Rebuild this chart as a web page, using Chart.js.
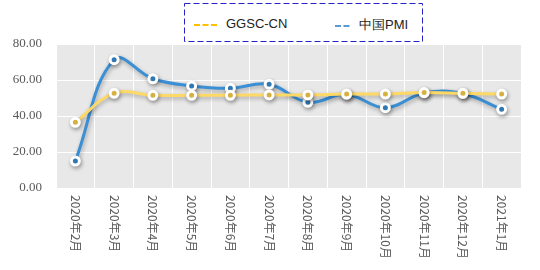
<!DOCTYPE html>
<html lang="zh">
<head>
  <meta charset="UTF-8" />
  <title>GGSC-CN vs 中国PMI</title>
  <style>
    body { margin: 0; background: #fff; }
    .wrap { position: relative; width: 540px; height: 270px; }
    canvas { position: absolute; left: 0; top: 0; }
    #legend { position: absolute; left: 184px; top: 3px; width: 239px; height: 39px; background: #fff; }
    #legend svg.box { position: absolute; left: 0; top: 0; }
    .item { position: absolute; top: 13px; font: 13px "Liberation Sans", Arial, sans-serif; color: #222; white-space: nowrap; }
    .item svg { vertical-align: middle; margin-right: 8px; }
  </style>
</head>
<body>
  <div class="wrap">
    <canvas id="chart" width="540" height="270"></canvas>
    <div id="legend">
      <svg class="box" width="239" height="39">
        <rect x="0.5" y="0.5" width="238" height="38" fill="#fff" stroke="#2323c8" stroke-width="1" stroke-dasharray="6,3" />
      </svg>
      <div class="item" style="left:10px">
        <svg width="24" height="4"><line x1="0" y1="2" x2="24" y2="2" stroke="#ffc000" stroke-width="2" stroke-dasharray="6,2.5" /></svg>GGSC-CN
      </div>
      <div class="item" style="left:151px">
        <svg width="16" height="4"><line x1="0" y1="2" x2="16" y2="2" stroke="#5b9bd5" stroke-width="2" stroke-dasharray="6,2.5" /></svg>中国PMI
      </div>
    </div>
  </div>

  <script src="https://cdn.jsdelivr.net/npm/chart.js"></script>
  <script>
    const months = ["2020年2月", "2020年3月", "2020年4月", "2020年5月", "2020年6月", "2020年7月",
                    "2020年8月", "2020年9月", "2020年10月", "2020年11月", "2020年12月", "2021年1月"];
    const ggsc = [36.5, 52.6, 51.5, 51.5, 51.5, 51.7, 51.7, 52.2, 52.2, 53.0, 52.6, 52.2];
    const pmi = [15.0, 71.3, 60.7, 56.7, 55.4, 57.6, 47.6, 52.0, 44.6, 52.8, 52.5, 43.7];
    const yTicks = [0, 20, 40, 60, 80];

    // gray plot background
    const plotBg = {
      id: "plotBg",
      beforeDraw(chart) {
        const { ctx, chartArea: a } = chart;
        ctx.save();
        ctx.fillStyle = "#e8e8e8";
        ctx.fillRect(a.left, a.top, a.right - a.left, a.bottom - a.top);
        ctx.restore();
      }
    };

    // soft shadow under lines and markers
    const shadow = {
      id: "shadow",
      beforeDatasetsDraw(chart) {
        const ctx = chart.ctx;
        ctx.save();
        ctx.shadowColor = "rgba(0,0,0,0.3)";
        ctx.shadowBlur = 4;
        ctx.shadowOffsetX = 1;
        ctx.shadowOffsetY = 2;
      },
      afterDatasetsDraw(chart) {
        chart.ctx.restore();
      }
    };

    // x labels rotated clockwise (read top to bottom)
    const xLabels = {
      id: "xLabels",
      afterDraw(chart) {
        const { ctx } = chart;
        const x = chart.scales.x;
        const top = chart.chartArea.bottom + 7;
        ctx.save();
        ctx.fillStyle = "#595959";
        ctx.font = '12px "Noto Sans CJK SC", sans-serif';
        ctx.textAlign = "left";
        ctx.textBaseline = "middle";
        months.forEach((m, i) => {
          ctx.save();
          ctx.translate(x.getPixelForValue(i), top);
          ctx.rotate(Math.PI / 2);
          ctx.fillText(m, 0, 0);
          ctx.restore();
        });
        ctx.restore();
      }
    };

    new Chart(document.getElementById("chart"), {
      type: "line",
      data: {
        labels: months,
        datasets: [
          {
            label: "GGSC-CN",
            data: ggsc,
            borderColor: "#ffd966",
            backgroundColor: "#ffd966",
            borderWidth: 3,
            tension: 0.4,
            pointRadius: 4,
            pointBorderWidth: 3,
            pointBorderColor: "#fff",
            pointBackgroundColor: "#ffd24d"
          },
          {
            label: "中国PMI",
            data: pmi,
            borderColor: "#3b8fd4",
            backgroundColor: "#3b8fd4",
            borderWidth: 3,
            tension: 0.4,
            pointRadius: 4,
            pointBorderWidth: 3,
            pointBorderColor: "#fff",
            pointBackgroundColor: "#3b8fd4"
          }
        ]
      },
      options: {
        responsive: false,
        animation: false,
        layout: { padding: { top: 44, right: 19, left: 0, bottom: 0 } },
        plugins: {
          legend: { display: false },
          tooltip: { enabled: false }
        },
        scales: {
          x: {
            offset: true,
            grid: { color: "#ffffff", lineWidth: 1, drawTicks: false, offset: true },
            border: { display: false },
            ticks: { display: false },
            afterFit: s => { s.height = 82; }
          },
          y: {
            min: 0,
            max: 80,
            afterBuildTicks: s => { s.ticks = yTicks.map(v => ({ value: v })); },
            grid: { color: "#ffffff", lineWidth: 1, drawTicks: false },
            border: { display: false },
            ticks: {
              padding: 14,
              color: "#595959",
              font: { family: '"Liberation Serif", serif', size: 13 },
              callback: v => v.toFixed(2)
            },
            afterFit: s => { s.width = 56; }
          }
        }
      },
      plugins: [plotBg, shadow, xLabels]
    });
  </script>
</body>
</html>
